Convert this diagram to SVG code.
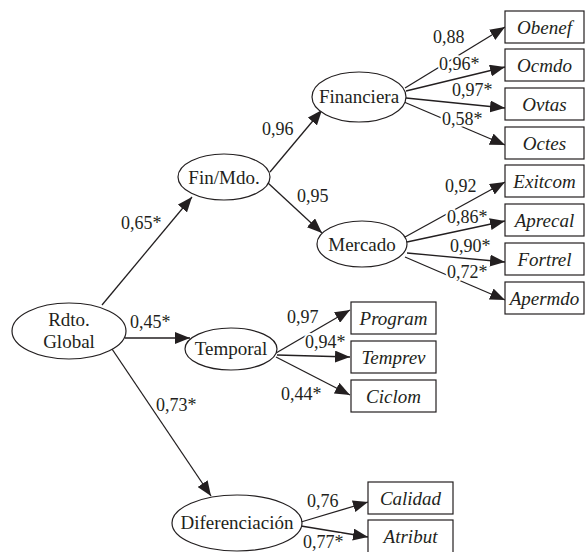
<svg xmlns="http://www.w3.org/2000/svg" width="586" height="552" viewBox="0 0 586 552">
<style>
  .node ellipse { fill: #ffffff; stroke: #231f20; stroke-width: 1.2; }
  .node rect { fill: #ffffff; stroke: #231f20; stroke-width: 1.2; }
  text { font-family: 'Liberation Serif', 'DejaVu Serif', serif; fill: #231f20; }
  .nt { font-size: 19px; text-anchor: middle; }
  .bt { font-size: 19px; font-style: italic; text-anchor: middle; }
  .conn line { stroke: #231f20; stroke-width: 1.3; marker-end: url(#arr); }
  .lbl { font-size: 18px; stroke: #ffffff; stroke-width: 4; paint-order: stroke; stroke-linejoin: round; }
</style>
<defs>
  <marker id="arr" markerUnits="userSpaceOnUse" markerWidth="15" markerHeight="12" refX="15" refY="6" orient="auto">
    <path d="M0,0 L15,6 L0,12 z" fill="#231f20"/>
  </marker>
</defs>
<rect x="0" y="0" width="586" height="552" fill="#ffffff"/>

<g id="connectors" class="conn">
  <line x1="102" y1="305" x2="192" y2="197"/>
  <line x1="125" y1="338" x2="190" y2="338"/>
  <line x1="112" y1="349" x2="211" y2="496"/>
  <line x1="270" y1="172" x2="322" y2="110"/>
  <line x1="268" y1="183" x2="322" y2="233"/>
  <line x1="405" y1="88" x2="505" y2="27"/>
  <line x1="406" y1="91" x2="505" y2="67"/>
  <line x1="406" y1="98" x2="505" y2="108"/>
  <line x1="404" y1="102" x2="505" y2="145"/>
  <line x1="405" y1="237" x2="505" y2="182"/>
  <line x1="407" y1="242" x2="505" y2="221"/>
  <line x1="407" y1="253" x2="505" y2="262"/>
  <line x1="405" y1="257" x2="505" y2="300"/>
  <line x1="276" y1="353" x2="350" y2="310"/>
  <line x1="277" y1="355" x2="350" y2="357"/>
  <line x1="276" y1="357" x2="350" y2="395"/>
  <line x1="301" y1="522" x2="368" y2="502"/>
  <line x1="301" y1="526" x2="368" y2="537"/>
</g>

<g id="labels">
  <text class="lbl" font-family="Liberation Serif, serif" x="121" y="229">0,65*</text>
  <text class="lbl" font-family="Liberation Serif, serif" x="130" y="328">0,45*</text>
  <text class="lbl" font-family="Liberation Serif, serif" x="156" y="411">0,73*</text>
  <text class="lbl" font-family="Liberation Serif, serif" x="262" y="135">0,96</text>
  <text class="lbl" font-family="Liberation Serif, serif" x="297" y="202">0,95</text>
  <text class="lbl" font-family="Liberation Serif, serif" x="433" y="43">0,88</text>
  <text class="lbl" font-family="Liberation Serif, serif" x="439" y="70">0,96*</text>
  <text class="lbl" font-family="Liberation Serif, serif" x="452" y="96">0,97*</text>
  <text class="lbl" font-family="Liberation Serif, serif" x="442" y="125">0,58*</text>
  <text class="lbl" font-family="Liberation Serif, serif" x="445" y="192">0,92</text>
  <text class="lbl" font-family="Liberation Serif, serif" x="447" y="223">0,86*</text>
  <text class="lbl" font-family="Liberation Serif, serif" x="450" y="252">0,90*</text>
  <text class="lbl" font-family="Liberation Serif, serif" x="447" y="278">0,72*</text>
  <text class="lbl" font-family="Liberation Serif, serif" x="287" y="323">0,97</text>
  <text class="lbl" font-family="Liberation Serif, serif" x="305" y="348">0,94*</text>
  <text class="lbl" font-family="Liberation Serif, serif" x="281" y="400">0,44*</text>
  <text class="lbl" font-family="Liberation Serif, serif" x="307" y="507">0,76</text>
  <text class="lbl" font-family="Liberation Serif, serif" x="303" y="548">0,77*</text>
</g>

<g id="rdto" class="node">
  <ellipse cx="69" cy="331" rx="57" ry="28"/>
  <text class="nt" x="69" y="326">Rdto.</text>
  <text class="nt" x="69" y="348">Global</text>
</g>
<g id="finmdo" class="node">
  <ellipse cx="224" cy="177" rx="46" ry="23"/>
  <text class="nt" x="224" y="184">Fin/Mdo.</text>
</g>
<g id="financiera" class="node">
  <ellipse cx="359" cy="97" rx="47" ry="25"/>
  <text class="nt" x="359" y="103">Financiera</text>
</g>
<g id="mercado" class="node">
  <ellipse cx="362" cy="244" rx="45" ry="23"/>
  <text class="nt" x="362" y="251">Mercado</text>
</g>
<g id="temporal" class="node">
  <ellipse cx="231" cy="349" rx="46" ry="21"/>
  <text class="nt" x="231" y="355">Temporal</text>
</g>
<g id="diferenciacion" class="node">
  <ellipse cx="237" cy="523" rx="65" ry="28"/>
  <text class="nt" x="237" y="529">Diferenciación</text>
</g>

<g id="obenef" class="node"><rect x="505" y="11" width="79" height="32"/><text class="bt" x="544.5" y="33.5">Obenef</text></g>
<g id="ocmdo" class="node"><rect x="505" y="49" width="79" height="32"/><text class="bt" x="544.5" y="71.5">Ocmdo</text></g>
<g id="ovtas" class="node"><rect x="505" y="88" width="79" height="32"/><text class="bt" x="544.5" y="110.5">Ovtas</text></g>
<g id="octes" class="node"><rect x="505" y="127" width="79" height="32"/><text class="bt" x="544.5" y="149.5">Octes</text></g>
<g id="exitcom" class="node"><rect x="505" y="165" width="79" height="32"/><text class="bt" x="544.5" y="187.5">Exitcom</text></g>
<g id="aprecal" class="node"><rect x="505" y="204" width="79" height="32"/><text class="bt" x="544.5" y="226.5">Aprecal</text></g>
<g id="fortrel" class="node"><rect x="505" y="243" width="79" height="32"/><text class="bt" x="544.5" y="265.5">Fortrel</text></g>
<g id="apermdo" class="node"><rect x="505" y="282" width="79" height="32"/><text class="bt" x="544.5" y="304.5">Apermdo</text></g>
<g id="program" class="node"><rect x="351" y="302" width="85" height="32"/><text class="bt" x="393.5" y="324.5">Program</text></g>
<g id="temprev" class="node"><rect x="351" y="341" width="85" height="32"/><text class="bt" x="393.5" y="363.5">Temprev</text></g>
<g id="ciclom" class="node"><rect x="351" y="380" width="85" height="32"/><text class="bt" x="393.5" y="402.5">Ciclom</text></g>
<g id="calidad" class="node"><rect x="368" y="482" width="85" height="32"/><text class="bt" x="410.5" y="504.5">Calidad</text></g>
<g id="atribut" class="node"><rect x="368" y="520" width="85" height="33"/><text class="bt" x="410.5" y="542.5">Atribut</text></g>
</svg>
